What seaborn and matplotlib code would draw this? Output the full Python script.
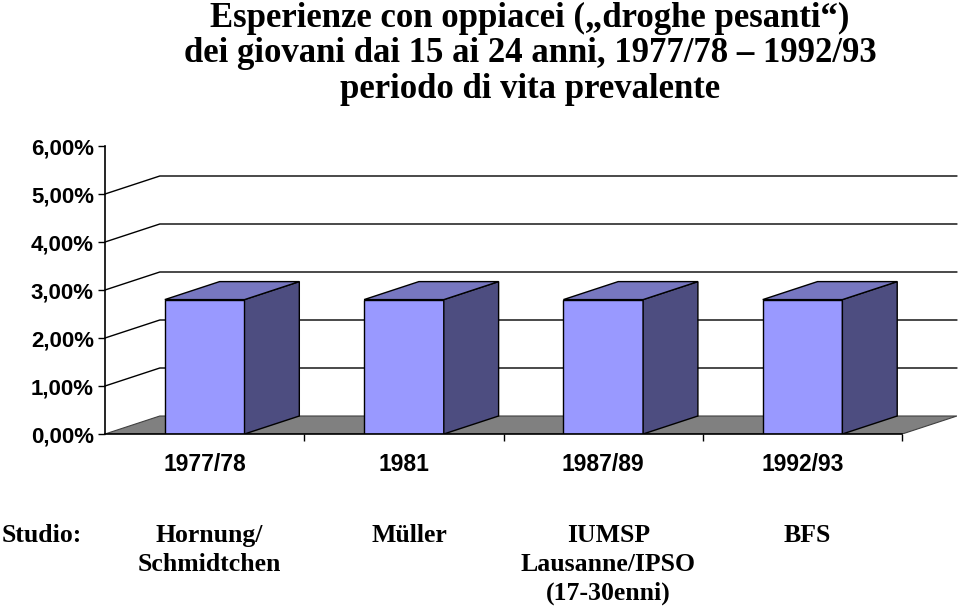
import pandas as pd
import seaborn as sns
import matplotlib.pyplot as plt
from matplotlib.patches import Polygon
from matplotlib.transforms import blended_transform_factory

# dati
anni = ['1977/78', '1981', '1987/89', '1992/93']
valori = [2.8, 2.8, 2.8, 2.8]
y_ticks = [0, 1, 2, 3, 4, 5, 6]
y_labels = ['0,00%', '1,00%', '2,00%', '3,00%', '4,00%', '5,00%', '6,00%']
studi = [['Hornung/', 'Schmidtchen'],
         ['Müller'],
         ['IUMSP', 'Lausanne/IPSO', '(17-30enni)'],
         ['BFS']]
titolo = ['Esperienze con oppiacei (\u201edroghe pesanti\u201c)',
          'dei giovani dai 15 ai 24 anni, 1977/78 \u2013 1992/93',
          'periodo di vita prevalente']

sns.set_style('white')
plt.rcParams['font.family'] = ['Liberation Sans', 'DejaVu Sans']
plt.rcParams['text.color'] = 'black'
plt.rcParams['xtick.color'] = 'black'
plt.rcParams['ytick.color'] = 'black'

# profondita' finta 3D (unita' dati)
DX, DY = 0.275, 0.375
n = len(anni)

fig = plt.figure(figsize=(9.6, 6.08), dpi=100)
ax = fig.add_axes([105 / 960, 1 - 434 / 608, 852 / 960, 288 / 608])

df = pd.DataFrame({'anno': anni, 'valore': valori})
sns.barplot(data=df, x='anno', y='valore', width=0.4, color='#9999FF',
            saturation=1, edgecolor='black', linewidth=1, ax=ax, zorder=3)

ax.set_xlim(-0.5, n - 0.5 + DX)
ax.set_ylim(0, 6)

# pavimento
floor = Polygon([(-0.5, 0), (n - 0.5, 0), (n - 0.5 + DX, DY), (-0.5 + DX, DY)],
                closed=True, facecolor='#808080', edgecolor='#404040',
                linewidth=0.8, zorder=1)
ax.add_patch(floor)

# griglia sulla parete di fondo
for v in y_ticks[1:-1]:
    ax.plot([-0.5, -0.5 + DX, n - 0.5 + DX], [v, v + DY, v + DY],
            color='black', linewidth=1, zorder=1.5, clip_on=False)

# facce laterali e superiori delle barre
for p in ax.patches:
    if p is floor:
        continue
    x0 = p.get_x()
    x1 = x0 + p.get_width()
    h = p.get_height()
    side = Polygon([(x1, 0), (x1 + DX, DY), (x1 + DX, h + DY), (x1, h)],
                   closed=True, facecolor='#4D4D80', edgecolor='black',
                   linewidth=1, zorder=3)
    top = Polygon([(x0, h), (x0 + DX, h + DY), (x1 + DX, h + DY), (x1, h)],
                  closed=True, facecolor='#7777C0', edgecolor='black',
                  linewidth=1, zorder=3)
    ax.add_patch(side)
    ax.add_patch(top)

# assi
for s in ['top', 'right']:
    ax.spines[s].set_visible(False)
ax.spines['left'].set_color('black')
ax.spines['bottom'].set_color('black')
ax.spines['left'].set_linewidth(1.2)
ax.spines['bottom'].set_linewidth(1.2)
ax.spines['bottom'].set_bounds(-0.5, n - 0.5)
ax.spines['left'].set_zorder(4)
ax.spines['bottom'].set_zorder(4)

ax.set_yticks(y_ticks)
ax.set_yticklabels(y_labels, fontsize=16, fontweight='bold')
ax.tick_params(axis='y', left=True, length=5, width=1, pad=3, color='black')

ax.set_xticks(range(n))
ax.set_xticklabels(anni, fontsize=16.5, fontweight='bold')
ax.set_xticks([i + 0.5 for i in range(n)], minor=True)
ax.tick_params(axis='x', which='major', bottom=False, length=0, pad=14)
ax.tick_params(axis='x', which='minor', bottom=True, length=5, width=1,
               color='black')
ax.set_xlabel('')
ax.set_ylabel('')

# titolo
for i, riga in enumerate(titolo):
    fig.text(530 / 960, 1 - (27 + 35.5 * i) / 608, riga, ha='center',
             va='baseline', fontsize=25, fontweight='bold',
             family='Liberation Serif', color='black')

# studi
fig.text(2 / 960, 1 - 542 / 608, 'Studio:', ha='left', va='baseline',
         fontsize=18.5, fontweight='bold', family='Liberation Serif',
         color='black')
tr = blended_transform_factory(ax.transData, fig.transFigure)
for i, righe in enumerate(studi):
    for j, r in enumerate(righe):
        fig.text(i + 0.025, 1 - (542 + 29 * j) / 608, r, transform=tr,
                 ha='center', va='baseline', fontsize=18.5,
                 fontweight='bold', family='Liberation Serif', color='black')

plt.savefig('out.png', dpi=100)
